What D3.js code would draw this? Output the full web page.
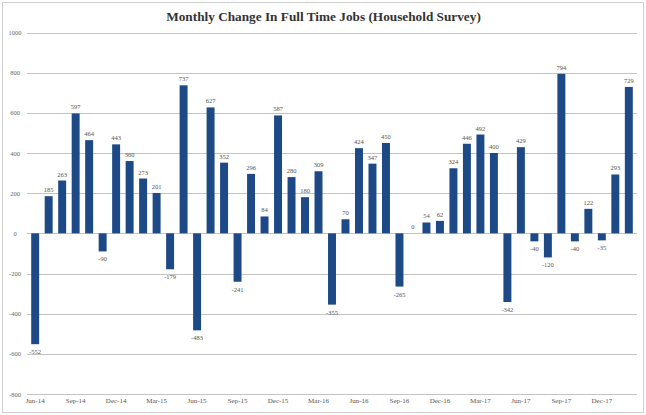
<!DOCTYPE html>
<html><head><meta charset="utf-8">
<script src="https://cdn.jsdelivr.net/npm/d3@7"></script>
<style>
html,body{margin:0;padding:0;background:#fff;}
svg{display:block;}
</style></head>
<body>
<script>
const title = "Monthly Change In Full Time Jobs (Household Survey)";
const months = ["Jun-14","Jul-14","Aug-14","Sep-14","Oct-14","Nov-14","Dec-14","Jan-15","Feb-15","Mar-15","Apr-15","May-15","Jun-15","Jul-15","Aug-15","Sep-15","Oct-15","Nov-15","Dec-15","Jan-16","Feb-16","Mar-16","Apr-16","May-16","Jun-16","Jul-16","Aug-16","Sep-16","Oct-16","Nov-16","Dec-16","Jan-17","Feb-17","Mar-17","Apr-17","May-17","Jun-17","Jul-17","Aug-17","Sep-17","Oct-17","Nov-17","Dec-17","Jan-18","Feb-18"];
const values = [-552,185,263,597,464,-90,443,360,273,201,-179,737,-483,627,352,-241,296,84,587,280,180,309,-355,70,424,347,450,-265,0,54,62,324,446,492,400,-342,429,-40,-120,794,-40,122,-35,293,729];
const yTicks = [-800,-600,-400,-200,0,200,400,600,800,1000];
const xTickLabels = ["Jun-14","Sep-14","Dec-14","Mar-15","Jun-15","Sep-15","Dec-15","Mar-16","Jun-16","Sep-16","Dec-16","Mar-17","Jun-17","Sep-17","Dec-17"];

const W = 646, H = 415;
const svg = d3.select("body").append("svg").attr("width", W).attr("height", H);
const serif = "'Liberation Serif','DejaVu Serif',serif";

// frame
svg.append("rect").attr("x",2.5).attr("y",2.5).attr("width",641).attr("height",410)
  .attr("fill","#fff").attr("stroke","#cfcfcf").attr("stroke-width",1);

const x = d3.scaleBand().domain(months).range([28.5, 635.5]).paddingInner(0.41).paddingOuter(0.2);
const y = d3.scaleLinear().domain([-800, 1000]).range([394, 32.5]);

// gridlines
svg.append("g").selectAll("line").data(yTicks).join("line")
  .attr("x1", 27).attr("x2", 637)
  .attr("y1", d => Math.round(y(d)) + 0.5).attr("y2", d => Math.round(y(d)) + 0.5)
  .attr("stroke", "#c4c4c4").attr("stroke-width", 1);

// y tick labels
svg.append("g").selectAll("text").data(yTicks).join("text")
  .attr("x", 15).attr("y", d => y(d) + 2.5)
  .attr("text-anchor", "middle")
  .attr("font-family", serif).attr("font-size", 6.5).attr("fill", "#666")
  .text(d => d);

// bars
svg.append("g").selectAll("rect").data(values).join("rect")
  .attr("x", (d,i) => x(months[i]))
  .attr("width", x.bandwidth())
  .attr("y", d => y(Math.max(0, d)))
  .attr("height", d => Math.abs(y(d) - y(0)))
  .attr("fill", "#1d4a86");

// value labels
svg.append("g").selectAll("text").data(values).join("text")
  .attr("x", (d,i) => x(months[i]) + x.bandwidth()/2)
  .attr("y", d => d >= 0 ? y(d) - 4 : y(d) + 10)
  .attr("text-anchor", "middle")
  .attr("font-family", serif).attr("font-size", 6.5).attr("fill", "#555")
  .text(d => d);

// x axis labels
const xAxis = d3.axisBottom(x).tickValues(xTickLabels).tickSize(0).tickPadding(0);
const gx = svg.append("g").attr("transform", "translate(0,398)").call(xAxis);
gx.select(".domain").remove();
gx.selectAll("text").attr("font-family", serif).attr("font-size", 7).attr("fill", "#555").attr("dy", "0.71em");

// title
const t = svg.append("text").attr("x", 323.5).attr("y", 21).attr("text-anchor", "middle")
  .attr("font-family", serif).attr("font-weight", "bold").attr("font-size", 14).attr("fill", "#333")
  .text(title);
const len = t.node().getComputedTextLength();
t.attr("font-size", 14 * 315 / len);
</script>
</body></html>
